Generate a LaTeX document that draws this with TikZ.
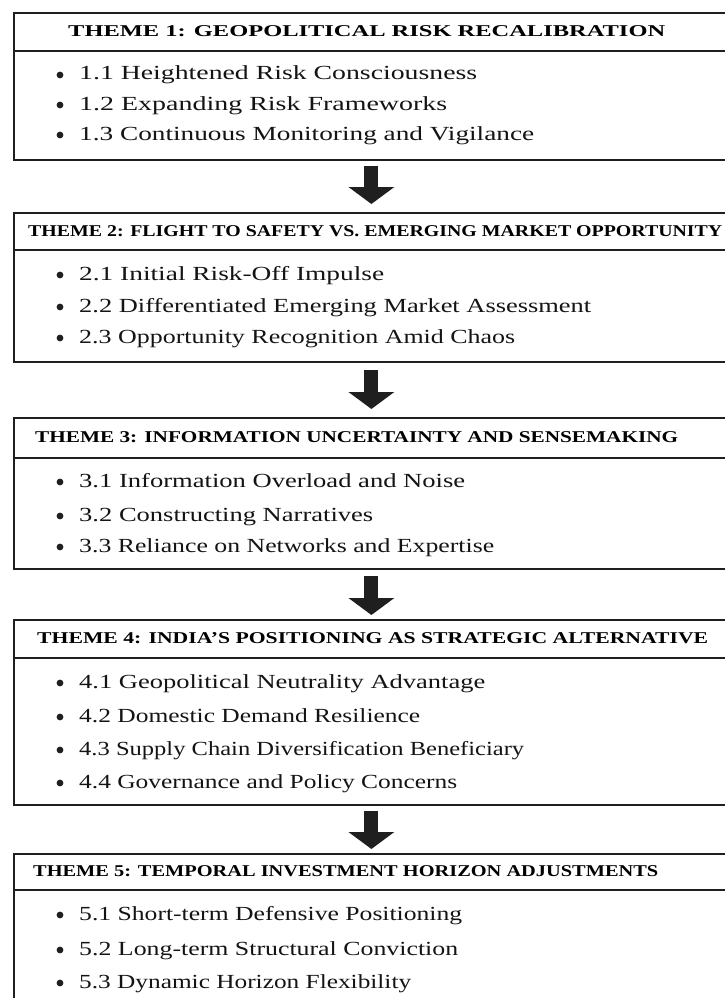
\documentclass[tikz,border=0pt]{standalone}
\usepackage{fontspec}
\setmainfont{Liberation Serif}
\usetikzlibrary{arrows.meta}
% \bitem{baseline y}{name}{text width in pt}{text}
\newcommand\bitem[4]{%
  \node[bul] (#2b) at (60,#1-5) {};
  \node[itm] (#2) at (79,#1) {\resizebox{#3pt}{\height}{#4}};}
\newcommand\hdrtext[2]{\resizebox{#1pt}{\height}{#2}}
\begin{document}
\begin{tikzpicture}[x=1pt,y=-1pt,
  box/.style={draw=black!88, line width=1.8pt, rectangle, inner sep=0pt, minimum width=715pt, anchor=north west},
  sep/.style={draw=black!88, line width=1.6pt},
  hdr/.style={anchor=west, inner sep=0pt, text=black, font=\fontsize{16.5}{16.5}\selectfont\bfseries},
  itm/.style={anchor=base west, inner sep=0pt, text=black!92, font=\fontsize{20}{20}\selectfont},
  bul/.style={circle, fill=black!88, inner sep=0pt, minimum size=6.8pt},
  flow/.style={-{Triangle[width=45pt,length=17pt]}, line width=14pt, draw=black!88, fill=black!88}]
\useasboundingbox (0,0) rectangle (725,998);
\fill[white] (0,0) rectangle (725,998);

% boxes
\node[box, minimum height=147pt] (b1) at (13,12) {};
\node[box, minimum height=149pt] (b2) at (13,212) {};
\node[box, minimum height=151pt] (b3) at (13,417) {};
\node[box, minimum height=185pt] (b4) at (13,619) {};
\node[box, minimum height=160pt] (b5) at (13,853) {};

% header separators
\draw[sep] (b1.west |- 0,51) -- (b1.east |- 0,51);
\draw[sep] (b2.west |- 0,250) -- (b2.east |- 0,250);
\draw[sep] (b3.west |- 0,458) -- (b3.east |- 0,458);
\draw[sep] (b4.west |- 0,658) -- (b4.east |- 0,658);
\draw[sep] (b5.west |- 0,890) -- (b5.east |- 0,890);

% headers
\node[hdr] (h1) at (68,31.5) {\hdrtext{597}{THEME 1: GEOPOLITICAL RISK RECALIBRATION}};
\node[hdr] (h2) at (28,231) {\hdrtext{694}{THEME 2: FLIGHT TO SAFETY VS. EMERGING MARKET OPPORTUNITY}};
\node[hdr] (h3) at (35,437.5) {\hdrtext{643}{THEME 3: INFORMATION UNCERTAINTY AND SENSEMAKING}};
\node[hdr] (h4) at (37,638.5) {\hdrtext{671}{THEME 4: INDIA'S POSITIONING AS STRATEGIC ALTERNATIVE}};
\node[hdr] (h5) at (33,871.5) {\hdrtext{625}{THEME 5: TEMPORAL INVESTMENT HORIZON ADJUSTMENTS}};

% items
\bitem{80}{i11}{398}{1.1 Heightened Risk Consciousness}
\bitem{110}{i12}{368}{1.2 Expanding Risk Frameworks}
\bitem{140}{i13}{455}{1.3 Continuous Monitoring and Vigilance}

\bitem{280}{i21}{305}{2.1 Initial Risk-Off Impulse}
\bitem{312}{i22}{512}{2.2 Differentiated Emerging Market Assessment}
\bitem{343}{i23}{436}{2.3 Opportunity Recognition Amid Chaos}

\bitem{487}{i31}{386}{3.1 Information Overload and Noise}
\bitem{521}{i32}{294}{3.2 Constructing Narratives}
\bitem{552}{i33}{415}{3.3 Reliance on Networks and Expertise}

\bitem{688}{i41}{406}{4.1 Geopolitical Neutrality Advantage}
\bitem{722}{i42}{341}{4.2 Domestic Demand Resilience}
\bitem{755}{i43}{445}{4.3 Supply Chain Diversification Beneficiary}
\bitem{788}{i44}{378}{4.4 Governance and Policy Concerns}

\bitem{920}{i51}{383}{5.1 Short-term Defensive Positioning}
\bitem{955}{i52}{379}{5.2 Long-term Structural Conviction}
\bitem{988}{i53}{332}{5.3 Dynamic Horizon Flexibility}

% arrows
\draw[flow, shorten <=5pt, shorten >=8pt] (b1.south) -- (b2.north);
\draw[flow, shorten <=7pt, shorten >=8pt] (b2.south) -- (b3.north);
\draw[flow, shorten <=6pt, shorten >=4pt] (b3.south) -- (b4.north);
\draw[flow, shorten <=5pt, shorten >=4pt] (b4.south) -- (b5.north);
\end{tikzpicture}
\end{document}
